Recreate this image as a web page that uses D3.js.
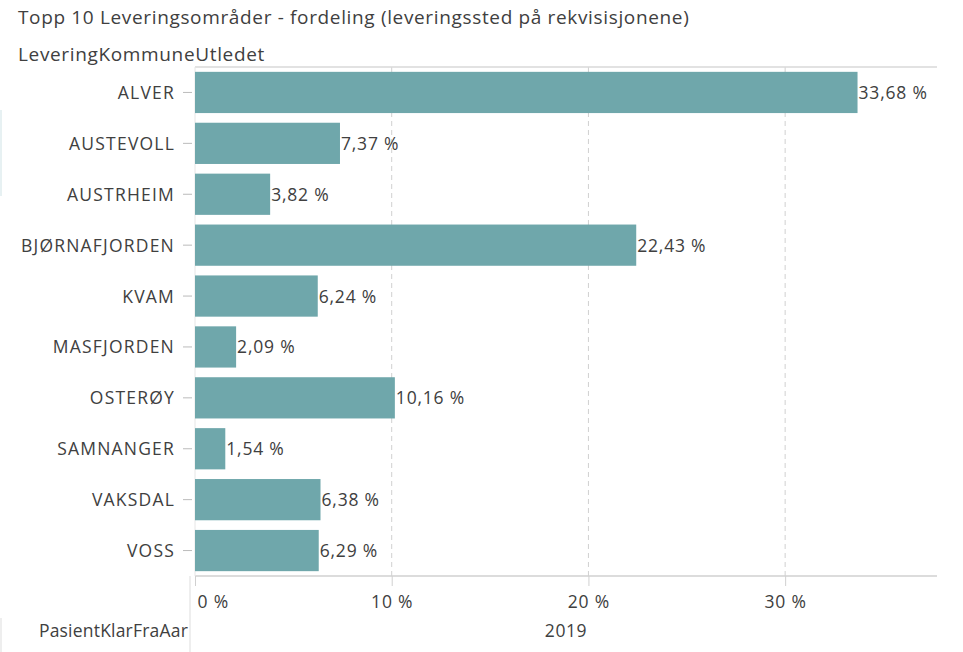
<!DOCTYPE html>
<html><head><meta charset="utf-8">
<script src="https://cdn.jsdelivr.net/npm/d3@7"></script>
<style>body{margin:0;background:#fff;} text{font-family:"Open Sans", sans-serif;}</style>
</head><body>
<svg id="c" width="963" height="652"></svg>
<script>
const categories = ["ALVER","AUSTEVOLL","AUSTRHEIM","BJØRNAFJORDEN","KVAM","MASFJORDEN","OSTERØY","SAMNANGER","VAKSDAL","VOSS"];
const values = [33.68, 7.37, 3.82, 22.43, 6.24, 2.09, 10.16, 1.54, 6.38, 6.29];
const xTicks = [0, 10, 20, 30];
const title = "Topp 10 Leveringsområder - fordeling (leveringssted på rekvisisjonene)";
const yTitle = "LeveringKommuneUtledet";
const xTitle = "PasientKlarFraAar";
const xGroup = "2019";

const svg = d3.select("#c");
const L = 195, R = 937, T = 67, B = 576;
const x = d3.scaleLinear().domain([0, 37.72]).range([L, R]);
const y = d3.scaleBand().domain(categories).range([T, B]).paddingInner(0.19).paddingOuter(0.095);
const fmt = v => d3.format(".2f")(v).replace(".", ",") + " %";
const txt = "#404040";
const FS = 17.5;
const FF = "'Open Sans', sans-serif";

svg.append("text").attr("x", 18).attr("y", 24).attr("font-size", 19).attr("letter-spacing", 0.65).attr("fill", txt).text(title);
svg.append("text").attr("x", 18).attr("y", 61).attr("font-size", 19).attr("letter-spacing", 0.65).attr("fill", txt).text(yTitle);

// faint left border line
svg.append("line").attr("x1", 1).attr("x2", 1).attr("y1", 110).attr("y2", 196).attr("stroke", "#cfe3e6");
svg.append("line").attr("x1", 1).attr("x2", 1).attr("y1", 618).attr("y2", 652).attr("stroke", "#ddd");

// grid
svg.append("g").selectAll("line").data(xTicks.slice(1)).join("line")
  .attr("x1", d => x(d)).attr("x2", d => x(d)).attr("y1", T).attr("y2", B)
  .attr("stroke", "#d0d0d0").attr("stroke-dasharray", "5,4");

// frame lines
svg.append("line").attr("x1", L).attr("x2", R).attr("y1", T).attr("y2", T).attr("stroke", "#d8d8d8").attr("stroke-width", 1.5);
svg.append("line").attr("x1", L).attr("x2", R).attr("y1", B).attr("y2", B).attr("stroke", "#d0d0d0").attr("stroke-width", 1.5);
svg.append("line").attr("x1", L - 5).attr("x2", L - 5).attr("y1", B).attr("y2", 652).attr("stroke", "#ddd");
svg.append("line").attr("x1", L).attr("x2", L).attr("y1", T).attr("y2", B).attr("stroke", "#e6e6e6");

// bars
svg.append("g").selectAll("rect").data(categories).join("rect")
  .attr("x", x(0)).attr("y", d => y(d)).attr("height", y.bandwidth())
  .attr("width", (d, i) => x(values[i]) - x(0)).attr("fill", "#6fa7ab");

// value labels
svg.append("g").selectAll("text").data(categories).join("text")
  .attr("x", (d, i) => x(values[i]) + 1).attr("y", d => y(d) + y.bandwidth() / 2 + 6.5)
  .attr("font-size", FS).attr("letter-spacing", 0.8).attr("fill", txt)
  .text((d, i) => fmt(values[i]));

// y axis
const ya = svg.append("g").attr("transform", `translate(${L - 3},0)`)
  .call(d3.axisLeft(y).tickSize(9).tickPadding(8));
ya.select(".domain").remove();
ya.selectAll(".tick line").attr("stroke", "#bbb");
ya.selectAll(".tick text").attr("font-size", FS).attr("letter-spacing", 1.2).attr("fill", txt).attr("dy", null).attr("y", 6.5).style("font-family", FF);

// x axis
const xa = svg.append("g").attr("transform", `translate(0,${B})`)
  .call(d3.axisBottom(x).tickValues(xTicks).tickSize(10).tickFormat(d => d + " %"));
xa.select(".domain").remove();
xa.selectAll(".tick line").attr("stroke", "#d0d0d0");
xa.selectAll(".tick text").attr("font-size", FS).attr("letter-spacing", 0.8).attr("fill", txt).attr("dy", null).attr("y", 32).style("font-family", FF);
xa.selectAll(".tick text").filter(d => d === 0).attr("text-anchor", "start").attr("dx", 2);

svg.append("text").attr("x", (L + R) / 2).attr("y", 637).attr("text-anchor", "middle").attr("font-size", FS).attr("letter-spacing", 0.6).attr("fill", txt).text(xGroup);
svg.append("text").attr("x", 188).attr("y", 637).attr("text-anchor", "end").attr("font-size", FS).attr("letter-spacing", 0.2).attr("fill", txt).text(xTitle);
</script>
</body></html>
